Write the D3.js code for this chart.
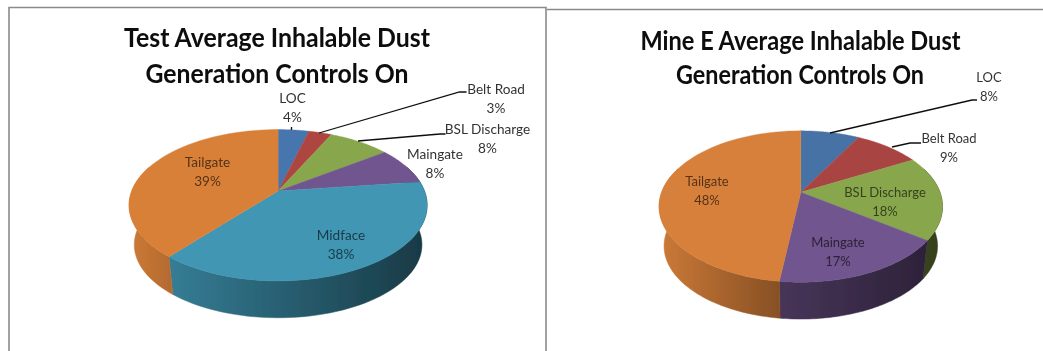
<!DOCTYPE html>
<html><head><meta charset="utf-8">
<script src="https://d3js.org/d3.v7.min.js"></script>
<style>
html,body{margin:0;padding:0;background:#fff;overflow:hidden}
svg{display:block}
text{font-family:Lato,"Open Sans",sans-serif;text-anchor:middle}
</style></head><body>
<svg id="c" width="1043" height="351"></svg>
<script>
const categoriesA = ["LOC","Belt Road","BSL Discharge","Maingate","Midface","Tailgate"];
const valuesA = [4,3,8,8,38,39];
const coloursA = ["#4676ae","#ad4441","#88a64c","#71558e","#4096b3","#d98039"];
const titleA = ["Test Average Inhalable Dust","Generation Controls On"];
const labelPosA = [[292.5,98],[496,89],[487.5,129],[435,154],[341,235],[207.5,162]];
const leadersA = [
  [[291.5,127],[291.5,130]],
  [[319,133],[459.5,92],[466.5,92]],
  [[358,141],[440,134],[445.5,134]]
];

const categoriesB = ["LOC","Belt Road","BSL Discharge","Maingate","Tailgate"];
const valuesB = [8,9,18,17,48];
const coloursB = ["#4672a6","#a84442","#88a64c","#71558e","#d7803a"];
const titleB = ["Mine E Average Inhalable Dust","Generation Controls On"];
const labelPosB = [[989,77],[949,138],[885,192],[838,242],[707,181]];
const leadersB = [
  [[830,133],[972,100],[977,100]],
  [[892,147],[910,143],[921,143]]
];

const svg = d3.select("#c");
const defs = svg.append("defs");
defs.append("filter").attr("id","soft").attr("x","-5%").attr("y","-5%").attr("width","110%").attr("height","110%")
  .append("feGaussianBlur").attr("stdDeviation",0.45);
const root = svg.append("g").attr("filter","url(#soft)");

// window frames
const frames = [
  [[9,351],[9,7.5],[546,7.5],[546,351]],
  [[547,9.5],[1043,9.5]]
];
frames.forEach(f=>root.append("path").attr("d",d3.line()(f)).attr("fill","none").attr("stroke","#8a8a8a").attr("stroke-width",1.6));

const R=73,K=0.188,DY=40,SHRINK=0.965;
const shade = d3.scaleLinear().domain([-140,-100,0,140]).range([0.95,0.8,0.58,0.38]).clamp(true);
const pieGen = d3.pie().sort(null).value(d=>d).startAngle(0).endAngle(2*Math.PI);
let gid=0;

function drawPie(cfg){
  const {cx,cy,A,values,colours,categories,title,titleY,titleW,labelPos,leaders,labelSize}=cfg;
  const proj=(t,bottom)=>{
    const u=Math.sin(t),v=-Math.cos(t),w=1/(1-K*v),s=bottom?SHRINK:1;
    return [cx+A*s*u*w, cy+(bottom?DY:0)+R*s*v*w];
  };
  const arcs=pieGen(values);
  const g=root.append("g");
  const sample=(a,b,bottom)=>d3.range(0,61).map(i=>proj(a+(b-a)*i/60,bottom));
  const lo=70*Math.PI/180, hi=290*Math.PI/180;
  // side wall
  arcs.forEach((d,i)=>{
    const a=Math.max(d.startAngle,lo), b=Math.min(d.endAngle,hi);
    if(b<=a) return;
    const top=sample(a,b,false), bot=sample(a,b,true).reverse();
    const xs=top.map(p=>p[0]);
    const x0=d3.min(xs),x1=d3.max(xs);
    const id="side"+(gid++);
    const base=d3.rgb(colours[i]);
    const mul=k=>d3.rgb(base.r*k,base.g*k,base.b*k).formatHex();
    const lg=defs.append("linearGradient").attr("id",id).attr("gradientUnits","userSpaceOnUse")
      .attr("x1",x0).attr("x2",x1).attr("y1",0).attr("y2",0);
    lg.append("stop").attr("offset",0).attr("stop-color",mul(shade(x0-cx)));
    lg.append("stop").attr("offset",1).attr("stop-color",mul(shade(x1-cx)));
    g.append("path").attr("d",d3.line()(top.concat(bot))+"Z").attr("fill",`url(#${id})`).attr("stroke",`url(#${id})`).attr("stroke-width",0.5);
  });
  // top face
  arcs.forEach((d,i)=>{
    const pts=[[cx,cy]].concat(sample(d.startAngle,d.endAngle,false));
    g.append("path").attr("d",d3.line()(pts)+"Z").attr("fill",colours[i]).attr("stroke",colours[i]).attr("stroke-width",0.4);
  });
  // leader lines
  leaders.forEach(l=>root.append("path").attr("d",d3.line()(l)).attr("fill","none").attr("stroke","#111").attr("stroke-width",1.3));
  // labels
  categories.forEach((c,i)=>{
    const inside = cfg.inside.includes(c);
    const fill = inside ? d3.rgb(colours[i]).darker(2.6).formatHex() : "#333";
    const [lx,ly]=labelPos[i];
    const t=root.append("text").attr("x",lx).attr("font-size",labelSize).attr("fill",fill);
    t.append("tspan").attr("x",lx).attr("y",ly+4.5).text(c);
    t.append("tspan").attr("x",lx).attr("y",ly+24).text(values[i]+"%");
  });
  // title
  title.forEach((s,i)=>{
    root.append("text").attr("x",titleY[i][0]).attr("y",titleY[i][1]).attr("font-size",27)
      .attr("font-weight",700).attr("textLength",titleW[i]).attr("lengthAdjust","spacingAndGlyphs")
      .attr("fill","#0a0a0a").text(s);
  });
}

drawPie({cx:278.1,cy:191,A:146.4,values:valuesA,colours:coloursA,categories:categoriesA,title:titleA,
  titleY:[[277,47],[277,83]],titleW:[306,263],labelPos:labelPosA,leaders:leadersA,labelSize:13.6,
  inside:["Midface","Tailgate"]});
drawPie({cx:800.8,cy:192.3,A:139.2,values:valuesB,colours:coloursB,categories:categoriesB,title:titleB,
  titleY:[[800.5,50],[800,84]],titleW:[320,248],labelPos:labelPosB,leaders:leadersB,labelSize:13,
  inside:["BSL Discharge","Maingate","Tailgate"]});
</script>
</body></html>
